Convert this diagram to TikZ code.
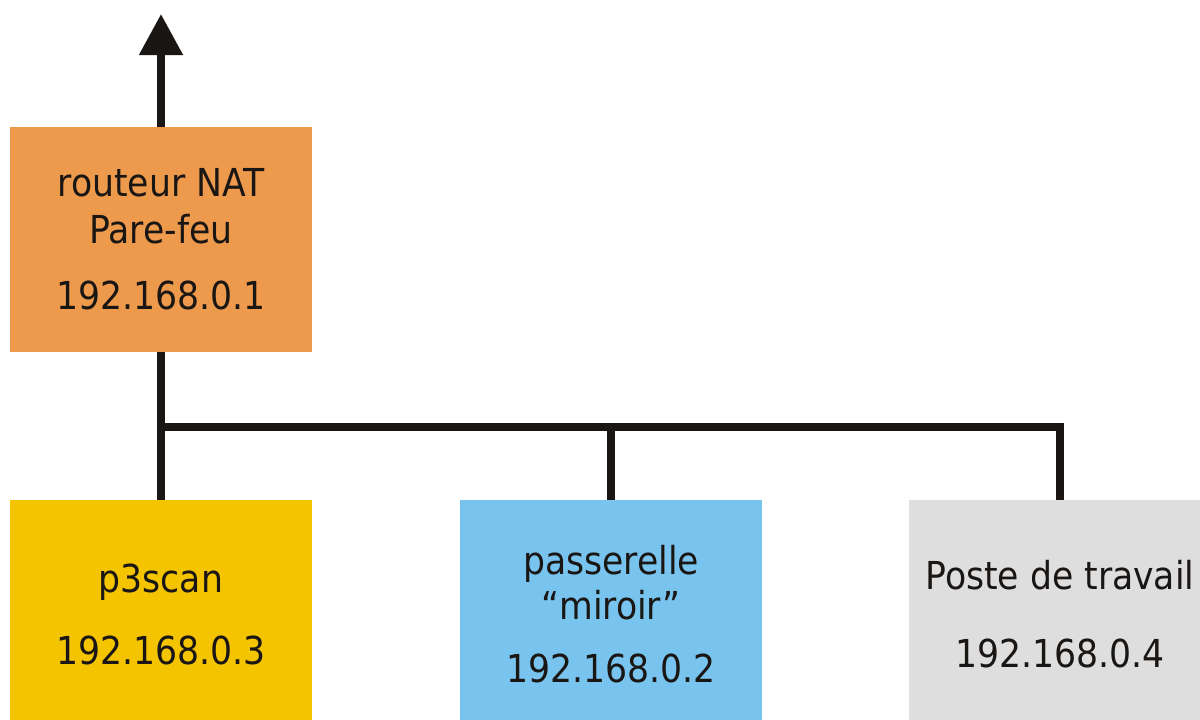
\documentclass[tikz,border=0pt]{standalone}
\usepackage{fontspec}
\setmainfont{DejaVu Sans Condensed}
\usetikzlibrary{arrows.meta}
\definecolor{orangebox}{RGB}{238,154,77}
\definecolor{yellowbox}{RGB}{245,196,0}
\definecolor{bluebox}{RGB}{120,196,238}
\definecolor{graybox}{RGB}{222,222,222}
\definecolor{ink}{RGB}{26,22,20}
\tikzset{
  box/.style={rectangle, inner sep=0pt, minimum width=302pt, align=center,
    text=ink, font=\fontsize{38.5}{44}\selectfont},
  wire/.style={draw=ink, line width=8pt}
}
\begin{document}
\begin{tikzpicture}[x=1pt,y=-1pt]
\useasboundingbox (0,0) rectangle (1200,720);
\clip (0,0) rectangle (1200,720);
\fill[white] (0,0) rectangle (1200,720);
\node[box, fill=orangebox, minimum height=225pt] (router) at (161,239.5)
  {routeur NAT\\[3pt]Pare-feu\\[22pt]192.168.0.1};
\node[box, fill=yellowbox, minimum height=228pt] (p3) at (161,614)
  {p3scan\\[28pt]192.168.0.3};
\node[box, fill=bluebox, minimum height=228pt] (miroir) at (611,614)
  {passerelle\\[1pt]“miroir”\\[19pt]192.168.0.2};
\node[box, fill=graybox, minimum height=228pt] (poste) at (1060,614)
  {Poste de travail\\[34pt]192.168.0.4};
\coordinate (net) at (161,14);
\coordinate (bus) at (161,427);
\draw[wire, -{Triangle[width=42pt,length=41pt]}] (router.north) -- (net);
\draw[wire] (router.south) -- (p3.north);
\draw[wire] (bus) -| (poste.north);
\draw[wire] (miroir.north) -- (miroir.north |- bus);
\end{tikzpicture}
\end{document}
